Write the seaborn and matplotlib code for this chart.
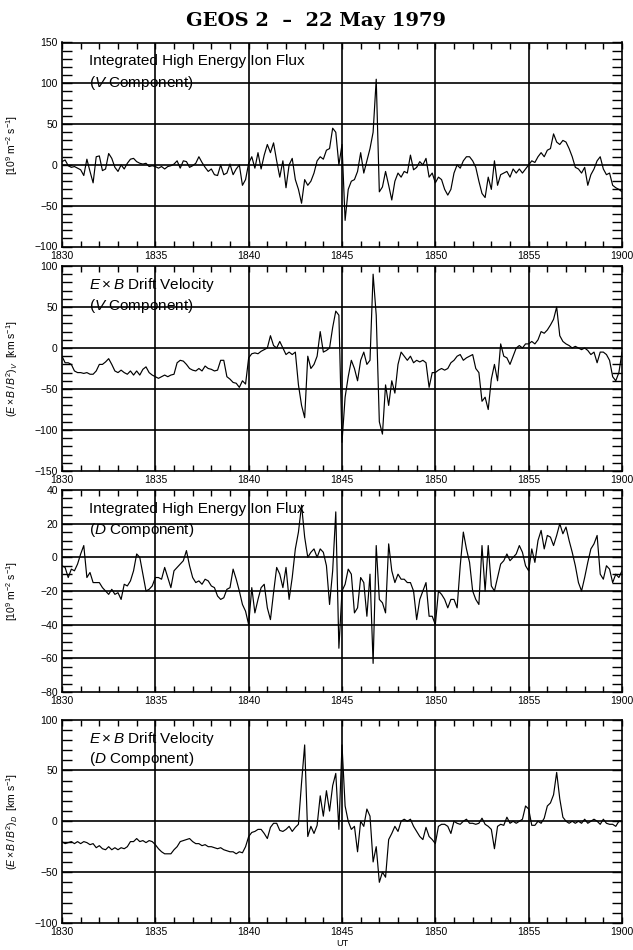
import numpy as np
import pandas as pd
import matplotlib
matplotlib.use('Agg')
import matplotlib.pyplot as plt
import seaborn as sns
from matplotlib.ticker import MultipleLocator

# GEOS 2, 22 May 1979, UT 1830-1900; values every 10 s
ut_labels = ['1830', '1835', '1840', '1845', '1850', '1855', '1900']

# integrated high energy ion flux, V component [1e9 m-2 s-1]
ion_v = [4, 6, -1, -3, -2, -4,
         -6, -13, 7, -8, -22, 10,
         11, -7, -5, 14, 8, -3,
         -8, 0, -5, 2, 7, 8,
         4, 2, 1, 2, -2, -1,
         -2, -4, -2, -5, -2, -1,
         1, 5, -4, 5, 4, -3,
         -1, 2, 10, 3, -3, -8,
         -5, -12, -13, 0, -12, -10,
         1, -12, -5, 0, -25, -18,
         2, 10, -4, 15, -5, 12,
         25, 15, 27, 5, -15, 5,
         -28, 0, 8, -18, -30, -47,
         -18, -25, -20, -10, 5, 10,
         7, 18, 20, 45, 40, 0,
         25, -68, -30, -20, -18, -8,
         15, -10, 5, 20, 40, 105,
         -33, -27, -8, -25, -43, -20,
         -10, -15, -8, -10, 12, -6,
         -3, 4, 0, 8, -15, -10,
         -22, -15, -18, -30, -37, -30,
         -10, 0, -4, 5, 10, 10,
         5, -3, -20, -35, -40, -15,
         -30, 5, -25, -12, -10, -8,
         -15, -5, -10, -5, -10, -5,
         0, 5, 3, 10, 15, 10,
         18, 20, 38, 28, 25, 30,
         28, 20, 10, -3, -5, -10,
         -3, -25, -12, -5, 5, 10,
         -5, -12, -10, -25, -28, -30,
         -33]

# E x B drift velocity, V component [km/s]
drift_v = [-10, -18, -18, -20, -28, -30,
           -30, -31, -30, -32, -32, -28,
           -20, -20, -17, -13, -20, -28,
           -30, -27, -30, -32, -28, -33,
           -28, -33, -26, -23, -30, -33,
           -35, -37, -35, -33, -35, -33,
           -32, -18, -15, -16, -20, -25,
           -27, -28, -25, -28, -22, -25,
           -26, -28, -27, -15, -15, -35,
           -38, -42, -43, -48, -40, -44,
           -12, -7, -6, -7, -4, -2,
           0, 15, 3, 0, 8, 0,
           -8, -5, -8, -5, -45, -70,
           -85, -10, -25, -20, -10, 20,
           -5, -3, 0, 25, 45, 40,
           -115, -60, -35, -15, -25, -40,
           -15, -5, -20, -15, 90, 40,
           -90, -105, -45, -70, -40, -55,
           -20, -5, -10, -15, -10, -18,
           -15, -17, -15, -18, -48, -30,
           -30, -27, -25, -27, -25, -18,
           -15, -10, -8, -15, -12, -10,
           -8, -25, -30, -65, -60, -75,
           -38, -20, -40, 5, -10, -12,
           -20, -10, 0, 3, 0, 5,
           5, 8, 5, 10, 20, 18,
           22, 28, 35, 50, 15, 8,
           5, 3, 0, 2, 0, -2,
           0, -3, -8, -5, -18, -5,
           -5, -8, -15, -35, -40, -30,
           -5]

# integrated high energy ion flux, D component [1e9 m-2 s-1]
ion_d = [-5, -6, -12, -7, -8, -4,
         2, 7, -12, -9, -15, -15,
         -15, -18, -20, -22, -19, -22,
         -21, -25, -16, -17, -14, -8,
         2, 0, -10, -20, -19, -17,
         -12, -12, -13, -6, -12, -18,
         -8, -6, -4, -2, 4, -5,
         -12, -15, -14, -16, -13, -14,
         -17, -18, -23, -25, -24, -19,
         -18, -7, -13, -20, -28, -32,
         -40, -18, -33, -25, -18, -16,
         -30, -37, -21, -6, -10, -18,
         -6, -25, -12, 5, 15, 31,
         12, 0, 3, 5, 0, 5,
         3, -5, -28, -8, 27, -54,
         -20, -16, -7, -10, -33, -30,
         -12, -15, -35, -10, -63, 7,
         -25, -27, -33, 8, -8, -15,
         -10, -13, -13, -15, -15, -20,
         -37, -25, -20, -15, -35, -35,
         -40, -20, -22, -25, -30, -25,
         -25, -30, -5, 15, 5, -3,
         -20, -25, -28, 7, -20, 7,
         -17, -20, -12, -4, -2, 2,
         -2, 0, 2, 7, 3, -5,
         -8, 5, -3, 10, 16, 5,
         13, 12, 7, 13, 20, 14,
         18, 10, 3, -5, -15, -20,
         -12, -3, 5, 8, 13, -10,
         -13, -5, -7, -15, -10, -12,
         -8]

# E x B drift velocity, D component [km/s]
drift_d = [-20, -22, -21, -20, -22, -20,
           -22, -20, -21, -23, -22, -26,
           -24, -27, -28, -25, -28, -26,
           -28, -26, -27, -25, -20, -20,
           -17, -20, -19, -21, -19, -20,
           -23, -27, -30, -32, -32, -32,
           -28, -25, -20, -19, -18, -17,
           -20, -22, -22, -24, -23, -25,
           -25, -26, -27, -26, -28, -29,
           -30, -30, -32, -30, -31, -25,
           -15, -11, -10, -8, -8, -12,
           -17, -6, -2, -2, -9, -10,
           -8, -5, -10, -6, -3, 38,
           75, -15, -5, -12, -4, 25,
           5, 30, 10, 35, 47, -8,
           75, 15, 0, -8, -5, -30,
           0, -5, 12, 5, -40, -25,
           -60, -50, -55, -18, -12, -5,
           -10, 0, 2, 0, 2, -5,
           -10, -15, -18, -6, -15, -18,
           -22, -5, -3, -3, -5, -12,
           0, -2, -3, 0, 2, -2,
           -2, -3, -2, 3, -3, -5,
           -8, -27, -5, -3, -4, 4,
           -2, 0, -2, 0, 2, 15,
           12, -4, -4, 0, -2, 3,
           15, 18, 26, 48, 22, 4,
           0, -2, 0, -2, 0, -2,
           2, -2, 0, 2, 0, -3,
           2, -2, -3, -3, -5, 0,
           0]

minute = np.arange(len(ion_v)) / 6.0
df = pd.DataFrame({'minute': minute, 'ion_v': ion_v, 'drift_v': drift_v,
                   'ion_d': ion_d, 'drift_d': drift_d})

sns.set_theme(style='white')
plt.rcParams['font.family'] = ['Liberation Sans', 'DejaVu Sans']
plt.rcParams['mathtext.fontset'] = 'custom'
plt.rcParams['mathtext.rm'] = 'Liberation Sans'
plt.rcParams['mathtext.it'] = 'Liberation Sans:italic'
plt.rcParams['axes.linewidth'] = 1.2
for k in ['text.color', 'axes.labelcolor', 'xtick.color', 'ytick.color',
          'axes.edgecolor']:
    plt.rcParams[k] = 'black'

flux_lab = '[10$^9$ m$^{-2}$ s$^{-1}$]'
panels = [
    ('ion_v', (-100, 150), 50, 10, flux_lab,
     'Integrated High Energy Ion Flux', '($\\mathit{V}$ Component)'),
    ('drift_v', (-150, 100), 50, 10, '$(E\\times B\\,/\\,B^2)_V$  [km s$^{-1}$]',
     '$E\\times B$ Drift Velocity', '($\\mathit{V}$ Component)'),
    ('ion_d', (-80, 40), 20, 5, flux_lab,
     'Integrated High Energy Ion Flux', '($\\mathit{D}$ Component)'),
    ('drift_d', (-100, 100), 50, 10, '$(E\\times B\\,/\\,B^2)_D$  [km s$^{-1}$]',
     '$E\\times B$ Drift Velocity', '($\\mathit{D}$ Component)'),
]
# panel top / bottom in pixels
spans = [(42.5, 246.5), (266, 471), (490, 692), (719.5, 923)]

fig = plt.figure(figsize=(6.33, 9.5), dpi=100)
W, H = 633.0, 950.0
for (col, ylim, major, minor, ylab, l1, l2), (top, bot) in zip(panels, spans):
    ax = fig.add_axes([62 / W, 1 - bot / H, 560 / W, (bot - top) / H])
    sns.lineplot(data=df, x='minute', y=col, ax=ax, color='black',
                 linewidth=0.85, estimator=None)
    ax.set_xlim(0, 30)
    ax.set_ylim(*ylim)
    ax.set_xticks(range(0, 31, 5))
    ax.set_xticklabels(ut_labels)
    ax.set_yticks(np.arange(ylim[0], ylim[1] + 1, major))
    ax.xaxis.set_minor_locator(MultipleLocator(1))
    ax.yaxis.set_minor_locator(MultipleLocator(minor))
    ax.tick_params(which='both', direction='in', top=True, right=True,
                   bottom=True, left=True, labelsize=7.5, color='black',
                   width=1.0)
    ax.tick_params(axis='x', which='both', length=4, pad=3)
    ax.tick_params(axis='y', which='both', length=7, pad=3)
    for v in range(5, 30, 5):
        ax.axvline(v, color='black', lw=1.2, zorder=1)
    for v in np.arange(ylim[0] + major, ylim[1], major):
        ax.axhline(v, color='black', lw=1.2, zorder=1)
    ax.set_ylabel(ylab, fontsize=7.5)
    ax.yaxis.set_label_coords(-0.075, 0.5)
    ax.set_xlabel('')
    ax.text(0.048, 1 - 23 / (bot - top), l1, transform=ax.transAxes,
            fontsize=11, va='baseline', ha='left')
    ax.text(0.048, 1 - 44 / (bot - top), l2, transform=ax.transAxes,
            fontsize=11, va='baseline', ha='left')

ax.set_xlabel('UT', fontsize=6.5, labelpad=1)

fig.text(0.5, 1 - 20.5 / H, 'GEOS 2  \u2013  22 May 1979', ha='center',
         va='center', family='DejaVu Serif', weight='bold', fontsize=14)

fig.savefig('out.png', dpi=100)
